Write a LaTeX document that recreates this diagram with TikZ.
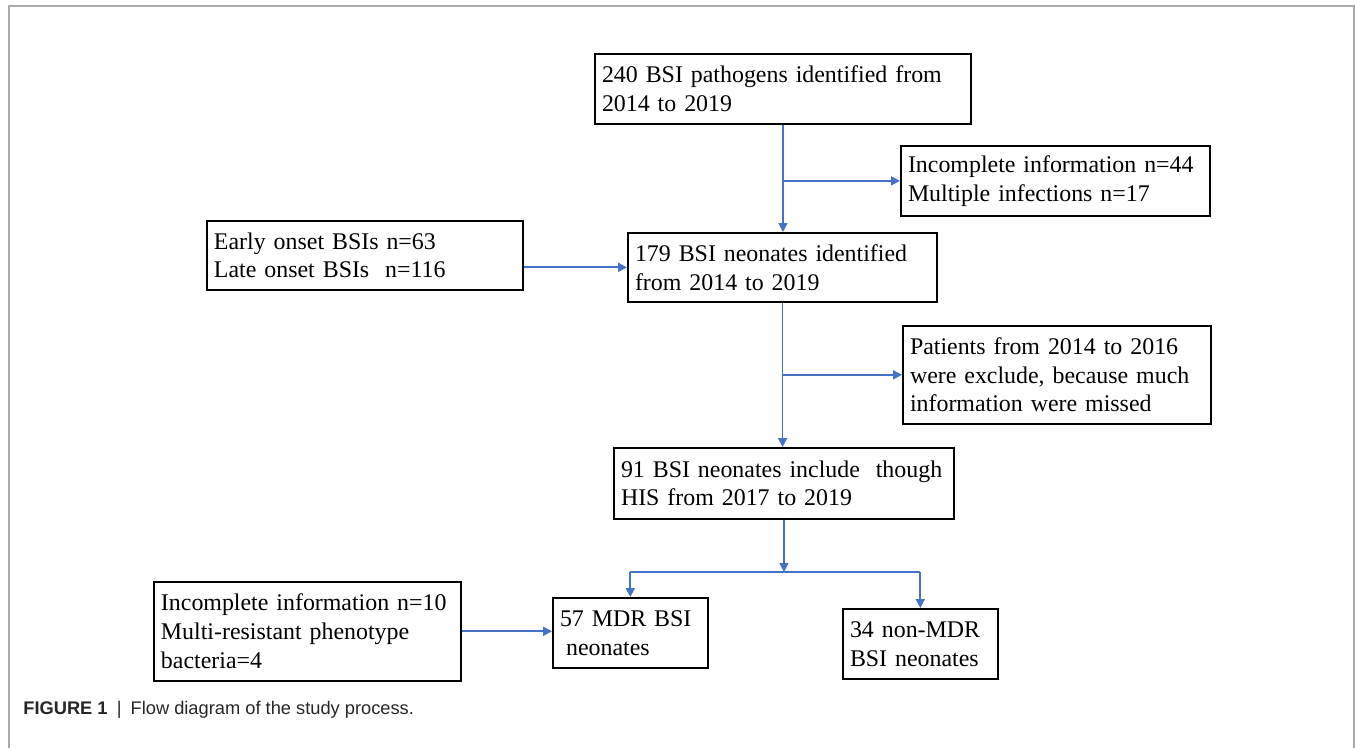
\documentclass[tikz,border=0pt]{standalone}
\usepackage{fontspec}
\setmainfont{Liberation Serif}
\newfontfamily\figcapfont{Liberation Sans}
\usetikzlibrary{arrows.meta}
\hyphenpenalty=10000

\definecolor{flowblue}{RGB}{68,114,196}
\definecolor{framegray}{RGB}{170,170,170}

\tikzset{
  box/.style={draw=black, line width=1.1pt, anchor=north west, align=left,
    inner xsep=4pt, inner ysep=2pt, font=\fontsize{13.6}{16.4}\selectfont},
  flowline/.style={draw=flowblue, line width=1pt},
  flow/.style={flowline, -{Triangle[length=5pt,width=5pt]}}
}

\begin{document}
\begin{tikzpicture}[x=0.02cm,y=-0.02cm]

    \useasboundingbox (0,0) rectangle (1355,748);

    % frame
    \draw[framegray, line width=0.9pt] (9,748) -- (9,6) -- (1354,6) -- (1354,748);

    % boxes
    \node[box, text width=206pt, minimum height=39.7pt] (pathogens) at (594,53)
      {240 BSI pathogens identified from\\2014 to 2019};
    \node[box, text width=168pt, minimum height=39.7pt] (excl1) at (900,145)
      {Incomplete information n=44\\Multiple infections n=17};
    \node[box, text width=172pt, minimum height=39.1pt] (onset) at (206,220)
      {Early onset BSIs n=63\\Late onset BSIs~ n=116};
    \node[box, text width=168pt, minimum height=39.1pt] (neonates) at (627,232)
      {179 BSI neonates identified\\from 2014 to 2019};
    \node[box, text width=167.5pt, minimum height=55.6pt] (excl2) at (902,325)
      {Patients from 2014 to 2016\\were exclude, because much\\information were missed};
    \node[box, text width=185.5pt, minimum height=40.2pt] (included) at (613,447)
      {91 BSI neonates include~ though\\HIS from 2017 to 2019};
    \node[box, text width=167pt, minimum height=56.1pt] (excl3) at (153,581)
      {Incomplete information n=10\\Multi-resistant phenotype\\bacteria=4};
    \node[box, text width=80pt, minimum height=39.7pt] (mdr) at (552,597)
      {57 MDR BSI\\\hspace{3.5pt}neonates};
    \node[box, text width=80pt, minimum height=39.7pt] (nonmdr) at (842,608)
      {34 non-MDR\\BSI neonates};

    % arrows
    \draw[flow] (pathogens.south) -- (pathogens.south |- neonates.north);
    \draw[flow] (pathogens.south |- excl1.west) -- (excl1.west);
    \draw[flow] (onset.east |- neonates.west) -- (neonates.west);
    \draw[flow] (neonates.south) -- (neonates.south |- included.north);
    \draw[flow] (neonates.south |- excl2.west) -- (excl2.west);

    % split into two groups
    \coordinate (fork) at (784,572);
    \draw[flow] (included.south) -- (included.south |- fork);
    \draw[flowline] (fork -| mdr.north) -- (fork -| nonmdr.north);
    \draw[flow] (fork -| mdr.north) -- (mdr.north);
    \draw[flow] (fork -| nonmdr.north) -- (nonmdr.north);
    \draw[flow] (excl3.east) -- (excl3.east -| mdr.west);

    % caption
    \node[anchor=base west, inner sep=0pt, text=black!85, font=\figcapfont\fontsize{10.4}{12}\selectfont] (caption) at (23,714)
      {\textbf{FIGURE 1}\hspace{0.5em}|\hspace{0.5em}Flow diagram of the study process.};

\end{tikzpicture}
\end{document}
